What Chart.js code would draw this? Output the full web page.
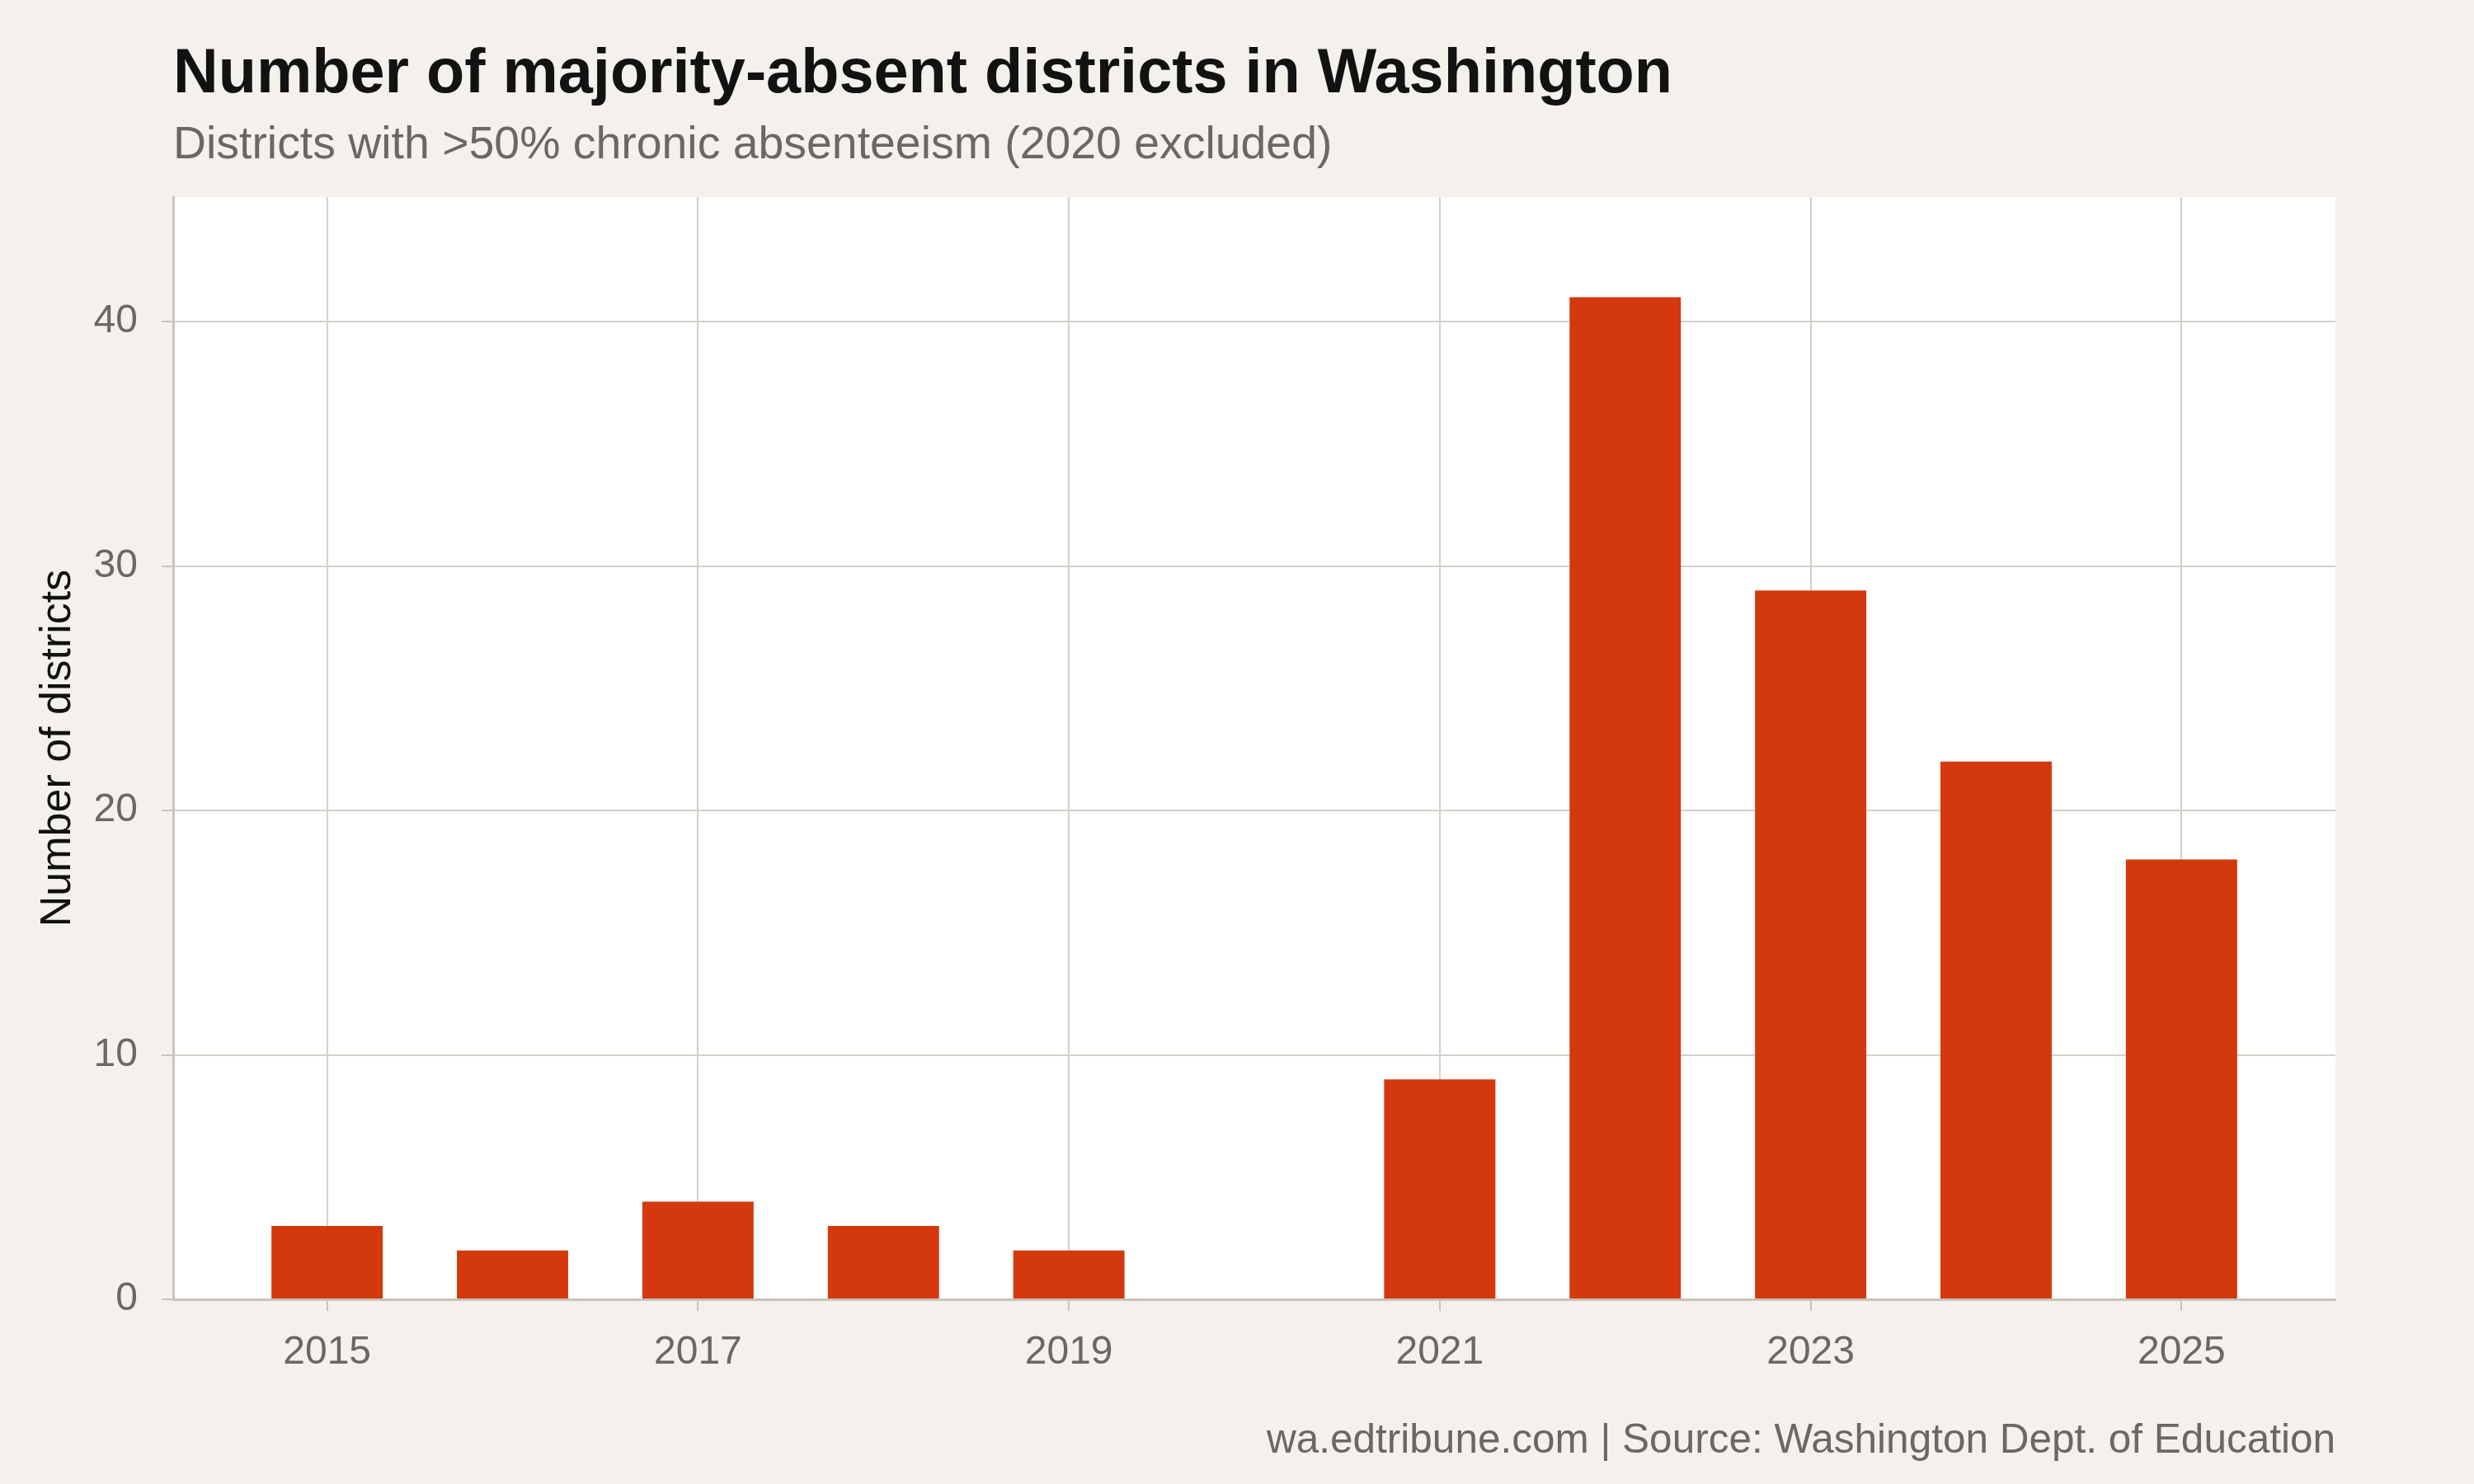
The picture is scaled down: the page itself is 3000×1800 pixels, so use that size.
<!DOCTYPE html>
<html>
<head>
<meta charset="utf-8">
<script src="https://cdn.jsdelivr.net/npm/chart.js@4.4.1/dist/chart.umd.min.js"></script>
<style>
    html, body { margin: 0; padding: 0; background: #f4f1ec; }
    #wrap { width: 3000px; height: 1800px; position: relative; }
</style>
</head>
<body>
<div id="wrap"><canvas id="absentChart" width="3000" height="1800"></canvas></div>
<script>
const years = [2015, 2016, 2017, 2018, 2019, 2021, 2022, 2023, 2024, 2025];
const districts = [3, 2, 4, 3, 2, 9, 41, 29, 22, 18];
const xTicks = [2015, 2017, 2019, 2021, 2023, 2025];
const yTicks = [0, 10, 20, 30, 40];

const titleText = 'Number of majority-absent districts in Washington';
const subtitleText = 'Districts with >50% chronic absenteeism (2020 excluded)';
const captionText = 'wa.edtribune.com | Source: Washington Dept. of Education';

const FONT = "'Liberation Sans', Arial, Helvetica, sans-serif";
const gridColor = '#d6d1c9';
const axisColor = '#c9c3ba';
const tickText = '#6b6761';

// background, white panel, and the heading / caption text
const frame = {
    id: 'frame',
    beforeDraw(chart) {
        const { ctx, chartArea } = chart;
        ctx.save();
        ctx.fillStyle = '#f4f1ec';
        ctx.fillRect(0, 0, chart.width, chart.height);
        ctx.fillStyle = '#ffffff';
        ctx.fillRect(chartArea.left, chartArea.top, chartArea.right - chartArea.left, chartArea.bottom - chartArea.top);
        ctx.restore();
    },
    afterDraw(chart) {
        const { ctx, chartArea } = chart;
        ctx.save();
        ctx.textBaseline = 'alphabetic';
        ctx.textAlign = 'left';
        ctx.fillStyle = '#121212';
        ctx.font = `bold 75.7px ${FONT}`;
        ctx.fillText(titleText, chartArea.left, 112);
        ctx.fillStyle = tickText;
        ctx.font = `55.4px ${FONT}`;
        ctx.fillText(subtitleText, chartArea.left, 192);
        ctx.textAlign = 'right';
        ctx.font = `49.5px ${FONT}`;
        ctx.fillText(captionText, chartArea.right, 1762);
        ctx.restore();
    },
};

new Chart(document.getElementById('absentChart'), {
    type: 'bar',
    data: {
        datasets: [
            {
                data: years.map((year, i) => ({ x: year, y: districts[i] })),
                backgroundColor: '#d4380d',
                borderWidth: 0,
                categoryPercentage: 0.6,
                barPercentage: 1.0,
            },
        ],
    },
    options: {
        responsive: false,
        animation: false,
        devicePixelRatio: 1,
        layout: {
            padding: { top: 239, right: 168, bottom: 0, left: 20 },
        },
        plugins: {
            legend: { display: false },
            tooltip: { enabled: false },
        },
        scales: {
            x: {
                type: 'linear',
                min: 2014.17,
                max: 2025.83,
                offset: false,
                afterBuildTicks(scale) {
                    scale.ticks = xTicks.map((v) => ({ value: v }));
                },
                afterFit(scale) {
                    scale.height = 224;
                },
                grid: {
                    offset: false,
                    color: gridColor,
                    lineWidth: 2,
                    drawTicks: true,
                    tickLength: 14,
                    tickColor: axisColor,
                    tickWidth: 2,
                },
                border: { display: true, color: axisColor, width: 3 },
                ticks: {
                    color: tickText,
                    font: { family: FONT, size: 48 },
                    padding: 22,
                    maxRotation: 0,
                    autoSkip: false,
                    callback: (v) => String(v),
                },
            },
            y: {
                min: 0,
                max: 45.1,
                afterBuildTicks(scale) {
                    scale.ticks = yTicks.map((v) => ({ value: v }));
                },
                afterFit(scale) {
                    scale.width = 190;
                },
                grid: {
                    color: gridColor,
                    lineWidth: 2,
                    drawTicks: true,
                    tickLength: 14,
                    tickColor: axisColor,
                    tickWidth: 2,
                },
                border: { display: true, color: axisColor, width: 3 },
                ticks: {
                    color: tickText,
                    font: { family: FONT, size: 48 },
                    padding: 29,
                    callback: (v) => String(v),
                },
                title: {
                    display: true,
                    text: 'Number of districts',
                    color: '#111111',
                    font: { family: FONT, size: 52 },
                    padding: { top: 19, bottom: 0 },
                },
            },
        },
    },
    plugins: [frame],
});
</script>
</body>
</html>
